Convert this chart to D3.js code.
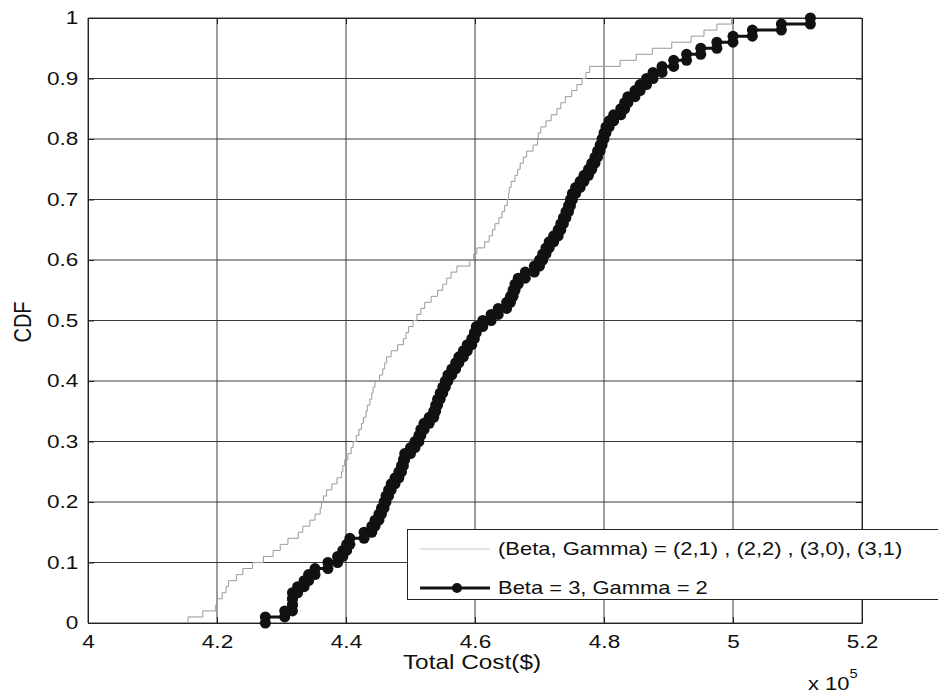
<!DOCTYPE html>
<html>
<head>
<meta charset="utf-8">
<script src="https://cdn.jsdelivr.net/npm/d3@7"></script>
<style>
    body { margin: 0; background: #fff; }
    svg { display: block; font-family: "Liberation Sans", Arial, Helvetica, sans-serif; }
</style>
</head>
<body>
<script>
// tick positions and labels
const xTicks = [4, 4.2, 4.4, 4.6, 4.8, 5, 5.2];
const xTickLabels = ["4", "4.2", "4.4", "4.6", "4.8", "5", "5.2"];
const yTicks = [0, 0.1, 0.2, 0.3, 0.4, 0.5, 0.6, 0.7, 0.8, 0.9, 1];
const yTickLabels = ["0", "0.1", "0.2", "0.3", "0.4", "0.5", "0.6", "0.7", "0.8", "0.9", "1"];

const seriesNames = ["(Beta, Gamma) = (2,1) , (2,2) , (3,0), (3,1)", "Beta = 3, Gamma = 2"];

// sorted total cost samples (x 10^5)
const costsMixed = [
    4.155, 4.178, 4.198, 4.200, 4.208, 4.214, 4.218, 4.230, 4.240, 4.255,
    4.272, 4.287, 4.298, 4.310, 4.326, 4.333, 4.344, 4.352, 4.360, 4.362,
    4.365, 4.370, 4.378, 4.386, 4.393, 4.395, 4.398, 4.403, 4.408, 4.411,
    4.416, 4.420, 4.424, 4.427, 4.431, 4.433, 4.437, 4.440, 4.442, 4.445,
    4.452, 4.457, 4.460, 4.463, 4.470, 4.480, 4.489, 4.493, 4.497, 4.504,
    4.510, 4.516, 4.522, 4.532, 4.542, 4.550, 4.556, 4.563, 4.572, 4.592,
    4.598, 4.603, 4.615, 4.622, 4.627, 4.631, 4.637, 4.642, 4.646, 4.650,
    4.652, 4.653, 4.656, 4.662, 4.666, 4.670, 4.675, 4.680, 4.690, 4.697,
    4.698, 4.702, 4.710, 4.718, 4.727, 4.733, 4.740, 4.750, 4.758, 4.766,
    4.772, 4.778, 4.825, 4.850, 4.875, 4.905, 4.935, 4.955, 4.975, 4.998
];

const costsBeta3 = [
    4.275, 4.305, 4.317, 4.317, 4.317, 4.325, 4.335, 4.342, 4.352, 4.372,
    4.387, 4.395, 4.401, 4.406, 4.428, 4.440, 4.445, 4.451, 4.455, 4.459,
    4.462, 4.466, 4.470, 4.476, 4.482, 4.486, 4.489, 4.491, 4.500, 4.507,
    4.513, 4.516, 4.521, 4.529, 4.536, 4.539, 4.542, 4.546, 4.550, 4.554,
    4.558, 4.564, 4.570, 4.575, 4.582, 4.588, 4.595, 4.599, 4.602, 4.612,
    4.625, 4.636, 4.649, 4.655, 4.659, 4.662, 4.667, 4.678, 4.692, 4.700,
    4.705, 4.710, 4.715, 4.722, 4.729, 4.733, 4.737, 4.741, 4.745, 4.748,
    4.751, 4.756, 4.763, 4.769, 4.776, 4.781, 4.786, 4.790, 4.794, 4.797,
    4.800, 4.803, 4.808, 4.815, 4.826, 4.832, 4.837, 4.848, 4.856, 4.866,
    4.876, 4.890, 4.908, 4.928, 4.950, 4.975, 5.000, 5.030, 5.075, 5.120
];

const svgWidth = 938;
const svgHeight = 696;
const margin = {top: 18, right: 76, bottom: 73, left: 88};
const chartWidth = svgWidth - margin.left - margin.right;
const chartHeight = svgHeight - margin.top - margin.bottom;

// the source figure is a bit wider than tall, text looks stretched
const stretch = 1.22;

window.onload = main;

function main() {
    render_chart();
}

// corners of an empirical cdf stair line
function ecdf_vertices(samples) {
    const n = samples.length;
    const pts = [];
    samples.forEach((v, i) => {
        pts.push([v, i / n]);
        pts.push([v, (i + 1) / n]);
    });
    return pts;
}

function add_text(parent, x, y, str, size) {
    return parent.append("text")
        .attr("transform", `translate(${x}, ${y}) scale(${stretch}, 1)`)
        .style("font-size", size + "px")
        .attr("fill", "#111")
        .text(str);
}

function render_chart() {
    const svg = d3.select("body")
        .append("svg")
        .attr("width", svgWidth)
        .attr("height", svgHeight);

    const g = svg.append("g")
        .attr("transform", `translate(${margin.left}, ${margin.top})`);

    const x = d3.scaleLinear().domain([4, 5.2]).range([0, chartWidth]);
    const y = d3.scaleLinear().domain([0, 1]).range([chartHeight, 0]);

    const gridColor = "#3a3a3a";

    // grid
    g.append("g")
        .selectAll("line")
        .data(xTicks)
        .join("line")
        .attr("x1", d => x(d)).attr("x2", d => x(d))
        .attr("y1", 0).attr("y2", chartHeight)
        .attr("stroke", gridColor)
        .attr("stroke-width", 1);

    g.append("g")
        .selectAll("line")
        .data(yTicks)
        .join("line")
        .attr("x1", 0).attr("x2", chartWidth)
        .attr("y1", d => y(d)).attr("y2", d => y(d))
        .attr("stroke", gridColor)
        .attr("stroke-width", 1);

    // axes with inward ticks
    const tickLen = 6;
    const xAxis = g.append("g")
        .attr("transform", `translate(0, ${chartHeight})`)
        .call(d3.axisBottom(x).tickValues(xTicks).tickFormat((d, i) => xTickLabels[i]).tickSizeInner(-tickLen).tickSizeOuter(0).tickPadding(12));
    const yAxis = g.append("g")
        .call(d3.axisLeft(y).tickValues(yTicks).tickFormat((d, i) => yTickLabels[i]).tickSizeInner(-tickLen).tickSizeOuter(0).tickPadding(8));
    g.append("g")
        .call(d3.axisTop(x).tickValues(xTicks).tickFormat("").tickSizeInner(-tickLen).tickSizeOuter(0));
    g.append("g")
        .attr("transform", `translate(${chartWidth}, 0)`)
        .call(d3.axisRight(y).tickValues(yTicks).tickFormat("").tickSizeInner(-tickLen).tickSizeOuter(0));

    g.selectAll(".domain").attr("stroke", "#222");
    g.selectAll(".tick line").attr("stroke", "#222");
    [xAxis, yAxis].forEach(a => a.selectAll("text")
        .attr("transform", `scale(${stretch}, 1)`)
        .style("font-size", "18.5px")
        .style("font-family", "'Liberation Sans', Arial, sans-serif")
        .attr("fill", "#111"));

    const line = d3.line()
        .x(d => x(d[0]))
        .y(d => y(d[1]));

    // grey stairs
    g.append("path")
        .datum(ecdf_vertices(costsMixed))
        .attr("d", line)
        .attr("fill", "none")
        .attr("stroke", "#9a9a9a")
        .attr("stroke-width", 1);

    // black stairs with markers
    const blackPts = ecdf_vertices(costsBeta3);
    g.append("path")
        .datum(blackPts)
        .attr("d", line)
        .attr("fill", "none")
        .attr("stroke", "#111")
        .attr("stroke-width", 3);

    g.append("g")
        .selectAll("circle")
        .data(blackPts)
        .join("circle")
        .attr("cx", d => x(d[0]))
        .attr("cy", d => y(d[1]))
        .attr("r", 5.5)
        .attr("fill", "#111");

    // axis labels
    add_text(svg, 472, 669, "Total Cost($)", 20)
        .attr("text-anchor", "middle");

    svg.append("text")
        .attr("transform", `translate(31, 322) rotate(-90) scale(1, ${stretch})`)
        .attr("text-anchor", "middle")
        .style("font-size", "20px")
        .attr("fill", "#111")
        .text("CDF");

    const expo = add_text(svg, 808, 690, "", 18);
    expo.append("tspan").text("x 10");
    expo.append("tspan").attr("dy", -12).style("font-size", "12px").text("5");

    // legend
    const legend = svg.append("g");
    legend.append("rect")
        .attr("x", 407.5)
        .attr("y", 529.5)
        .attr("width", 560)
        .attr("height", 70)
        .attr("fill", "#fff")
        .attr("stroke", "#222")
        .attr("stroke-width", 1);

    const legendRows = [
        {y: 549, color: "#c8c8c8", width: 1, marker: false},
        {y: 588, color: "#111", width: 3, marker: true}
    ];
    legendRows.forEach((row, i) => {
        legend.append("line")
            .attr("x1", 420).attr("x2", 490)
            .attr("y1", row.y).attr("y2", row.y)
            .attr("stroke", row.color)
            .attr("stroke-width", row.width);
        if (row.marker) {
            legend.append("circle")
                .attr("cx", 457).attr("cy", row.y)
                .attr("r", 5)
                .attr("fill", "#111");
        }
        add_text(legend, 498, row.y + 6, seriesNames[i], 18);
    });
}
</script>
</body>
</html>
